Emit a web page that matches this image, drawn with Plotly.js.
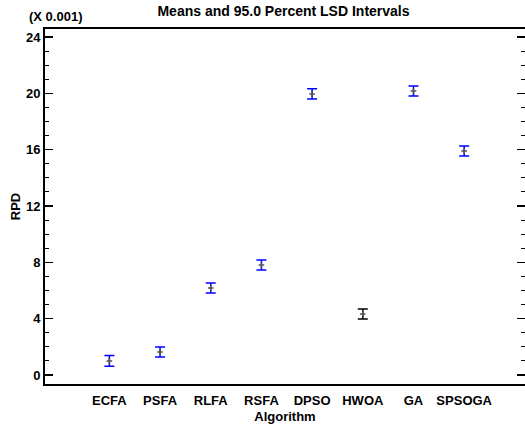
<!DOCTYPE html>
<html><head><meta charset="utf-8">
<script src="https://cdn.plot.ly/plotly-3.0.1.min.js"></script>
<style>body{margin:0;background:#fff}#c{width:525px;height:430px}</style>
</head><body><div id="c"></div>
<script>
const algorithms = ["ECFA","PSFA","RLFA","RSFA","DPSO","HWOA","GA","SPSOGA"];
const means = [1.0, 1.63, 6.18, 7.81, 19.96, 4.33, 20.17, 15.91];
const halfLSD = [0.38, 0.36, 0.36, 0.36, 0.36, 0.36, 0.36, 0.36];
const barColors = ["#0000ff","#0000ff","#0000ff","#0000ff","#0000ff","#000000","#0000ff","#0000ff"];
const yTicks = [0,4,8,12,16,20,24];

const traces = algorithms.map((a,i)=>({
  type:"scatter", mode:"markers",
  x:[i], y:[means[i]],
  marker:{symbol:"cross-thin", size:4, color:"#555", line:{width:1.5,color:"#555"}},
  error_y:{type:"data", array:[halfLSD[i]], visible:true, color:barColors[i], thickness:1.5, width:5},
  showlegend:false, hoverinfo:"skip"
}));

const bold = {family:"Liberation Sans, Arial, sans-serif", size:13, color:"#000", weight:"bold"};
const layout = {
  width:525, height:430,
  margin:{l:45, r:0, t:29, b:46},
  paper_bgcolor:"#fff", plot_bgcolor:"#fff",
  title:{text:"Means and 95.0 Percent LSD Intervals", font:Object.assign({}, bold, {size:14}), x:0.54, xanchor:"center", y:0.975, yanchor:"middle"},
  xaxis:{
    range:[-1.27, 8.2], tickmode:"array", tickvals:algorithms.map((a,i)=>i), ticktext:algorithms,
    showgrid:false, zeroline:false, showline:true, mirror:true, linewidth:2, linecolor:"#000",
    ticks:"", tickfont:bold, ticklabelstandoff:3,
    title:{text:"Algorithm", font:bold, standoff:5}
  },
  yaxis:{
    range:[-0.64, 24.57], tickmode:"array", tickvals:yTicks, ticktext:yTicks.map(String),
    showgrid:false, zeroline:false, showline:true, mirror:"ticks", linewidth:2, linecolor:"#000",
    ticks:"inside", ticklen:8, tickwidth:1.2, tickcolor:"#000", tickfont:bold,
    minor:{dtick:1, ticks:"inside", ticklen:4, tickwidth:1, tickcolor:"#000", showgrid:false},
    title:{text:"RPD", font:bold, standoff:2}
  },
  annotations:[{text:"(X 0.001)", xref:"paper", yref:"paper", x:-0.037, y:1.035, xanchor:"left", yanchor:"middle", showarrow:false, font:bold}]
};
Plotly.newPlot("c", traces, layout, {staticPlot:true, displayModeBar:false});
</script></body></html>
